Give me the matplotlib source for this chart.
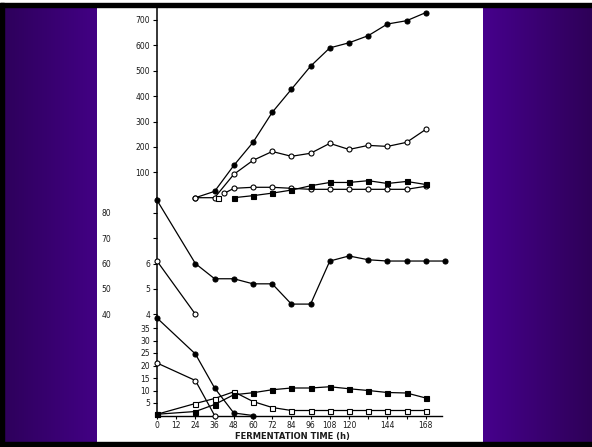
import matplotlib.pyplot as plt
import numpy as np

# ---- data ----
# upper panel (0-700 scale)
top_t = [24, 36, 48, 60, 72, 84, 96, 108, 120, 132, 144, 156, 168]
top_filled_circ = [0, 25, 127, 218, 336, 427, 518, 590, 610, 638, 684, 697, 729]
top_open_circ = [0, 0, 92, 147, 182, 163, 175, 214, 190, 206, 202, 218, 269]
low_open_t = [42, 48, 60, 72, 84, 96, 108, 120, 132, 144, 156, 168]
low_open_circ = [17, 37, 41, 41, 37, 33, 33, 33, 33, 33, 33, 45]
sq_open_t = [38]
sq_open = [0]
sq_filled_t = [48, 60, 72, 84, 96, 108, 120, 132, 144, 156, 168]
sq_filled = [0, 8, 18, 30, 47, 60, 60, 67, 56, 64, 52]

# middle panel (4-8 scale, outer 40-80)
mid_t = [0, 24, 36, 48, 60, 72, 84, 96, 108, 120, 132, 144, 156, 168, 180]
mid_filled = [8.5, 6.0, 5.4, 5.4, 5.2, 5.2, 4.4, 4.4, 6.1, 6.3, 6.15, 6.1, 6.1, 6.1, 6.1]
mid_open_t = [0, 24]
mid_open = [6.1, 4.0]

# lower panel (0-35 scale)
bot_fc_t = [0, 24, 36, 48, 60]
bot_fc = [39, 24.6, 11, 1, 0]
bot_oc_t = [0, 24, 36]
bot_oc = [21, 14, 0]
bot_os_t = [0, 24, 36, 48, 60, 72, 84, 96, 108, 120, 132, 144, 156, 168]
bot_os = [0.5, 4.8, 6.8, 9.5, 5.6, 3.2, 2.0, 2.0, 2.0, 2.0, 2.0, 2.0, 2.0, 2.0]
bot_fs_t = [0, 24, 36, 48, 60, 72, 84, 96, 108, 120, 132, 144, 156, 168]
bot_fs = [0.5, 1.6, 4.4, 8.3, 9.1, 10.3, 11, 11, 11.5, 10.7, 10, 9.2, 9.0, 7]

xtick_vals = list(range(0, 169, 12))
xtick_labels = ['0', '12', '24', '36', '48', '60', '72', '84', '96', '108', '120', '', '144', '', '168']

W, H = 592, 447
fig = plt.figure(figsize=(W / 100, H / 100), dpi=100, facecolor='white')

# slide background
bg = fig.add_axes([0, 0, 1, 1])
bg.axis('off')
grad = np.linspace(0, 1, 64).reshape(1, -1)
left_c = np.array([[0x2e, 0x00, 0x5c], [0x42, 0x00, 0x84]]) / 255
right_c = np.array([[0x46, 0x00, 0x8c], [0x2e, 0x00, 0x58]]) / 255
img_l = left_c[0][None, None, :] * (1 - grad[..., None]) + left_c[1][None, None, :] * grad[..., None]
img_r = right_c[0][None, None, :] * (1 - grad[..., None]) + right_c[1][None, None, :] * grad[..., None]
bg.imshow(img_l, extent=(5, 97, 442, 6), aspect='auto', zorder=1)
bg.imshow(img_r, extent=(483, W, 442, 6), aspect='auto', zorder=1)
bg.add_patch(plt.Rectangle((0, 3), W, 3.5, color='black', zorder=2))
bg.add_patch(plt.Rectangle((0, 442), W, 5, color='black', zorder=2))
bg.add_patch(plt.Rectangle((0, 3), 4, 442, color='black', zorder=2))
bg.set_xlim(0, W)
bg.set_ylim(H, 0)


def px_axes(left, right, top, bottom):
    return fig.add_axes([left / W, 1 - bottom / H, (right - left) / W, (bottom - top) / H])


x_left, x_right = 157, 442
t_max = (x_right - x_left) / 1.6

ax_top = px_axes(x_left, x_right, 7, 197.7)
ax_mid = px_axes(x_left, x_right, 197.7, 316)
ax_bot = px_axes(x_left, x_right, 316, 415.5)

lw = 0.9
ms = 3.6


def series(ax, t, v, marker, filled):
    ax.plot(t, v, color='black', lw=lw, marker=marker, ms=ms,
            mfc='black' if filled else 'white', mec='black', mew=0.8,
            clip_on=False, zorder=5)


for ax in (ax_top, ax_mid, ax_bot):
    ax.set_facecolor('none')
    ax.set_xlim(0, t_max)
    for s in ('top', 'right'):
        ax.spines[s].set_visible(False)
    ax.spines['left'].set_linewidth(1.1)
    ax.tick_params(axis='y', direction='out', length=3, width=0.8, pad=2, labelsize=5.5,
                   labelcolor='#1a1a1a')

for ax in (ax_top, ax_mid):
    ax.spines['bottom'].set_visible(False)
    ax.set_xticks([])

# upper panel
ax_top.set_ylim(0, 751)
ax_top.set_yticks([100, 200, 300, 400, 500, 600, 700])
series(ax_top, top_t, top_filled_circ, 'o', True)
series(ax_top, top_t, top_open_circ, 'o', False)
series(ax_top, low_open_t, low_open_circ, 'o', False)
series(ax_top, sq_filled_t, sq_filled, 's', True)
series(ax_top, sq_open_t, sq_open, 's', False)

# middle panel
ax_mid.set_ylim(3.93, 8.60)
ax_mid.set_yticks([4, 5, 6, 7, 8])
ax_mid.set_yticklabels(['4', '5', '6', '', ''])
series(ax_mid, mid_t, mid_filled, 'o', True)
series(ax_mid, mid_open_t, mid_open, 'o', False)
outer = ax_mid.secondary_yaxis((111 - x_left) / (x_right - x_left),
                               functions=(lambda v: v * 10, lambda v: v / 10))
outer.set_yticks([40, 50, 60, 70, 80])
outer.tick_params(length=0, pad=0, labelsize=5.5, labelcolor='#1a1a1a')
outer.spines['left'].set_visible(False)

# lower panel
ax_bot.set_ylim(0, 39.8)
ax_bot.set_yticks([5, 10, 15, 20, 25, 30, 35])
ax_bot.spines['bottom'].set_linewidth(1.0)
ax_bot.set_xticks(xtick_vals)
ax_bot.set_xticklabels(xtick_labels)
ax_bot.tick_params(axis='x', direction='out', length=2.5, width=0.8, pad=1.5, labelsize=5.5,
                   labelcolor='#1a1a1a')
series(ax_bot, bot_oc_t, bot_oc, 'o', False)
series(ax_bot, bot_os_t, bot_os, 's', False)
series(ax_bot, bot_fs_t, bot_fs, 's', True)
series(ax_bot, bot_fc_t, bot_fc, 'o', True)
ax_bot.set_xlabel('FERMENTATION TIME (h)', fontsize=6, fontweight='bold', color='#1a1a1a')
ax_bot.xaxis.set_label_coords((292 - x_left) / (x_right - x_left), -0.17)

fig.savefig('out.png', dpi=100)
